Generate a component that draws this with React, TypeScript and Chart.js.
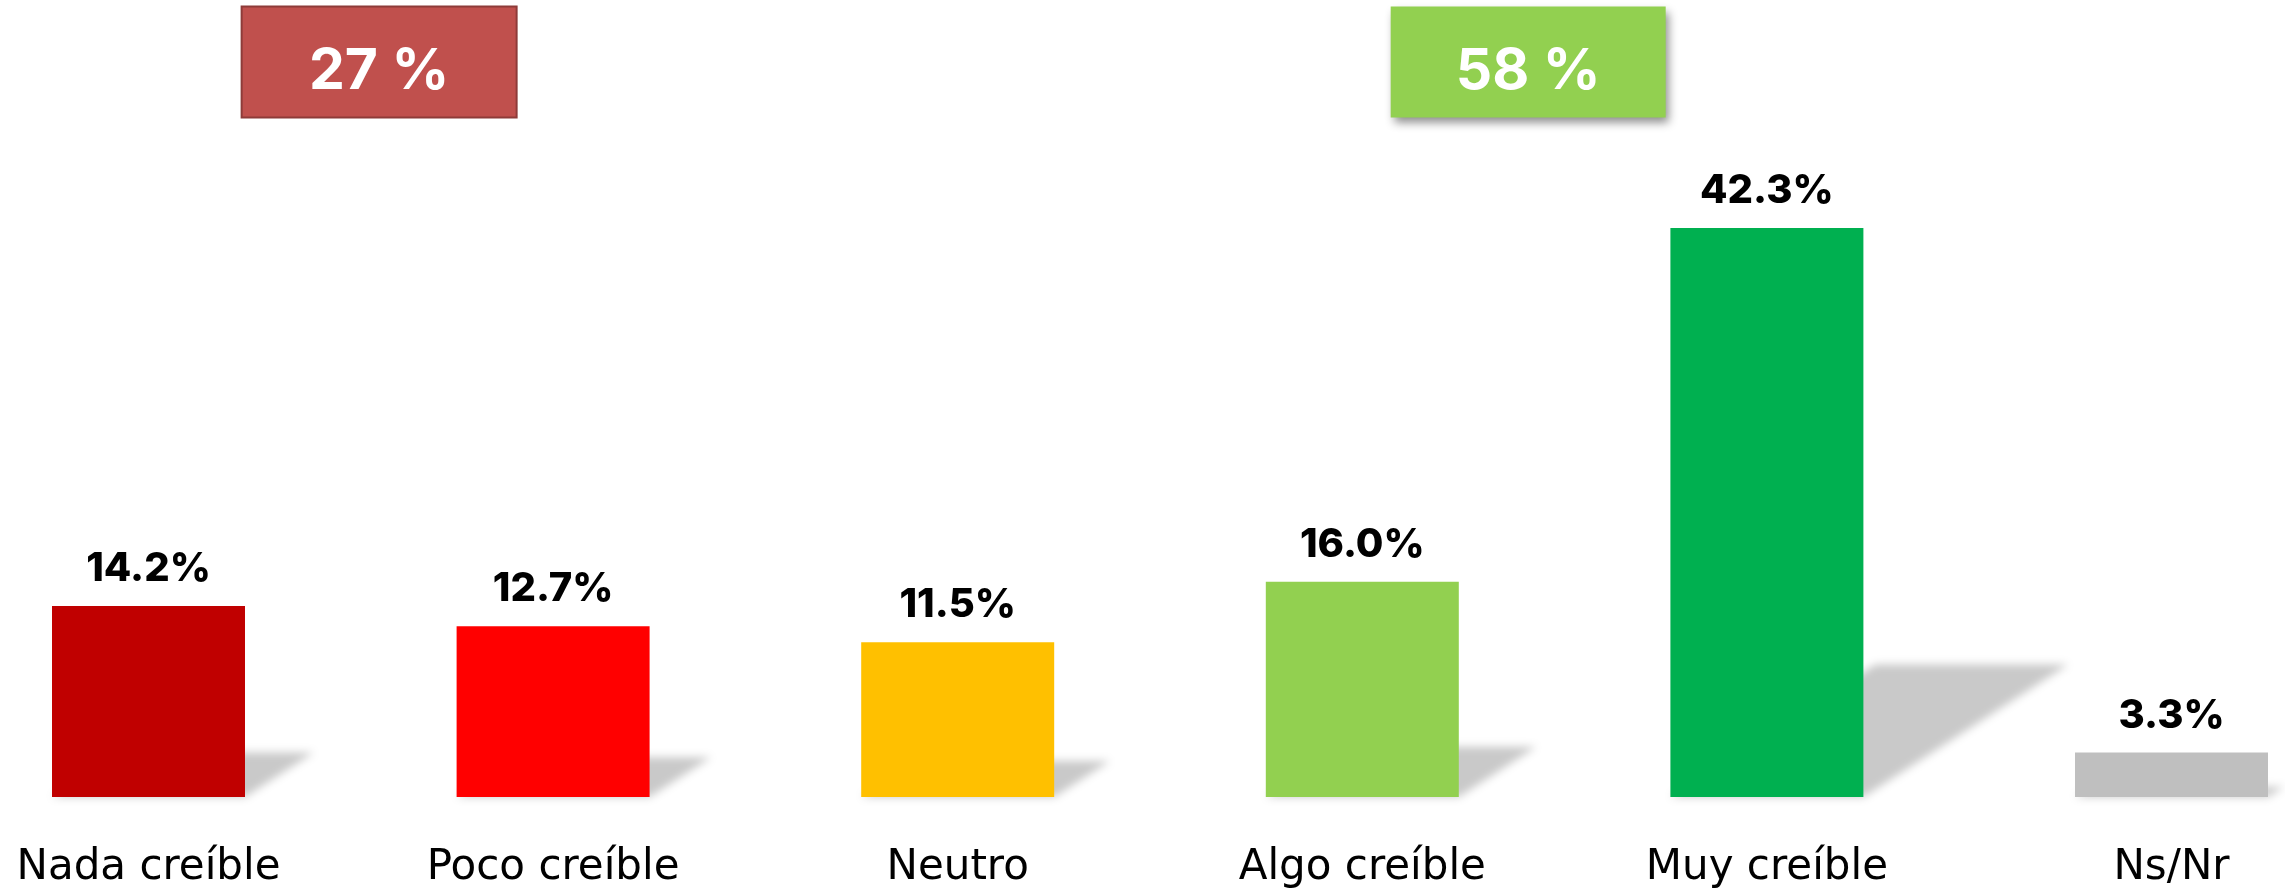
import React, { useEffect, useRef } from 'react';
import { Chart, registerables } from 'chart.js';

Chart.register(...registerables);

const categories = ['Nada creíble', 'Poco creíble', 'Neutro', 'Algo creíble', 'Muy creíble', 'Ns/Nr'];
const values = [14.2, 12.7, 11.5, 16.0, 42.3, 3.3];
const barColors = ['#C00000', '#FF0000', '#FFC000', '#92D050', '#00B050', '#BFBFBF'];
const groupLabels = ['27 %', '58 %'];
const groupPositions = [0.57, 3.41];
const groupColors = ['#C0504D', '#92D050'];
const groupBorders = ['#8E3B39', null];
const groupShadow = [false, true];

const FONT = 'Inter, "Noto Sans", sans-serif';
const TICK_FONT = '"DejaVu Sans", Inter, sans-serif';

const shadowPlugin = {
  id: 'barShadow',
  beforeDatasetsDraw(chart: any) {
    const ctx = chart.ctx;
    const meta = chart.getDatasetMeta(0);
    ctx.save();
    ctx.filter = 'blur(4px)';
    ctx.fillStyle = 'rgba(0,0,0,0.21)';
    meta.data.forEach((bar: any) => {
      const { x, y, base, width } = bar.getProps(['x', 'y', 'base', 'width'], true);
      const h = base - y;
      const l = x - width / 2;
      const r = x + width / 2;
      const sh = h * 0.233;
      const dx = h * 0.36;
      ctx.beginPath();
      ctx.moveTo(l, base);
      ctx.lineTo(r, base);
      ctx.lineTo(r + dx, base - sh);
      ctx.lineTo(l + dx, base - sh);
      ctx.closePath();
      ctx.fill();
    });
    ctx.restore();
  },
};

const valueLabelPlugin = {
  id: 'valueLabels',
  afterDatasetsDraw(chart: any) {
    const ctx = chart.ctx;
    const meta = chart.getDatasetMeta(0);
    ctx.save();
    ctx.font = `800 40px ${FONT}`;
    ctx.fillStyle = '#000';
    ctx.textAlign = 'center';
    ctx.textBaseline = 'alphabetic';
    meta.data.forEach((bar: any, i: number) => {
      const { x, y } = bar.getProps(['x', 'y'], true);
      ctx.fillText(values[i].toFixed(1) + '%', x, y - 25);
    });
    ctx.restore();
  },
};

const groupBoxPlugin = {
  id: 'groupBoxes',
  afterDraw(chart: any) {
    const ctx = chart.ctx;
    const xScale = chart.scales.x;
    const w = 275;
    const h = 111;
    const top = 6.5;
    groupLabels.forEach((label, i) => {
      const cx = xScale.getPixelForValue(groupPositions[i]);
      const left = cx - w / 2;
      ctx.save();
      if (groupShadow[i]) {
        ctx.shadowColor = 'rgba(0,0,0,0.45)';
        ctx.shadowBlur = 9;
        ctx.shadowOffsetX = 3;
        ctx.shadowOffsetY = 5;
      }
      ctx.fillStyle = groupColors[i];
      ctx.fillRect(left, top, w, h);
      ctx.restore();
      ctx.save();
      const border = groupBorders[i];
      if (border) {
        ctx.strokeStyle = border;
        ctx.lineWidth = 2;
        ctx.strokeRect(left, top, w, h);
      }
      ctx.fillStyle = '#FFFFFF';
      ctx.font = `bold 57px ${FONT}`;
      ctx.textAlign = 'center';
      ctx.textBaseline = 'alphabetic';
      ctx.fillText(label, cx, top + 82);
      ctx.restore();
    });
  },
};

export default function App() {
  const canvasRef = useRef<HTMLCanvasElement | null>(null);

  useEffect(() => {
    const canvas = canvasRef.current;
    if (!canvas) return;
    const chart = new Chart(canvas, {
      type: 'bar',
      data: {
        labels: categories,
        datasets: [
          {
            data: values,
            backgroundColor: barColors,
            borderWidth: 0,
            categoryPercentage: 1,
            barPercentage: 0.477,
            clip: false as any,
          },
        ],
      },
      options: {
        responsive: false,
        animation: false,
        devicePixelRatio: 1,
        layout: { padding: { top: 124.5, left: 148.5, right: 113.5, bottom: 0 } },
        plugins: {
          legend: { display: false },
          tooltip: { enabled: false },
          title: { display: false },
        },
        scales: {
          x: {
            offset: false,
            grid: { display: false, drawTicks: false },
            border: { display: false },
            ticks: {
              padding: 0,
              color: '#000',
              font: { family: TICK_FONT, size: 42, lineHeight: '142px' as any },
              maxRotation: 0,
              autoSkip: false,
            },
          },
          y: {
            display: false,
            min: 0,
            max: 50,
          },
        },
      },
      plugins: [shadowPlugin, valueLabelPlugin, groupBoxPlugin],
    });
    return () => chart.destroy();
  }, []);

  return (
    <div style={{ position: 'fixed', left: 0, top: 0, width: 2285, height: 939, background: '#fff' }}>
      <canvas ref={canvasRef} width={2285} height={939} style={{ display: 'block' }} />
    </div>
  );
}
